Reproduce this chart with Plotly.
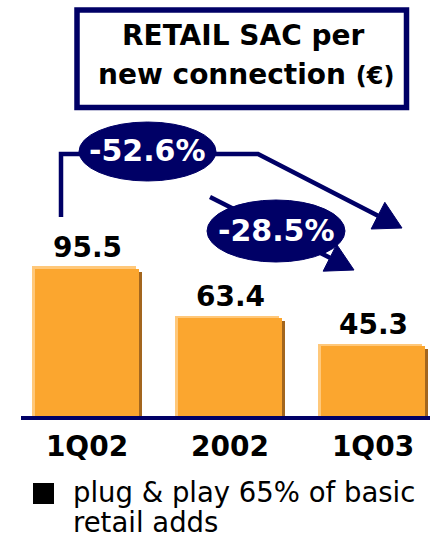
import plotly.graph_objects as go

# Retail SAC per new connection, in euro
periods = ["1Q02", "2002", "1Q03"]
sac_eur = [95.5, 63.4, 45.3]
changes = ["-52.6%", "-28.5%"]
title_lines = ["RETAIL SAC per", "new connection"]
title_unit = "(€)"
bullet_lines = ["plug & play 65% of basic", "retail adds"]

NAVY = "#000066"
ORANGE = "#FBA62F"
ORANGE_LIGHT = "#FFC87A"
ORANGE_DARK = "#A3661E"
FONT = "DejaVu Sans"

W, H = 430, 538
# plot area in pixels
PL, PR, PT, PB = 21, 0, 0, 122
PW = W - PL - PR
PH = H - PT - PB

Y_MAX = 270.0          # y-axis top, euro
X_MIN, X_MAX = -0.4615, 2.3986
BAR_W = 0.727
UX = PW / (X_MAX - X_MIN)   # px per category unit
UY = PH / Y_MAX             # px per euro


def px(x):
    return (x - PL) / PW


def py(y):
    return (PT + PH - y) / PH


fig = go.Figure()

# bevel: shadow behind, light rim, then the face
fig.add_trace(go.Bar(
    x=periods, y=sac_eur, base=-3 / UY, width=BAR_W,
    offset=-BAR_W / 2 + 3.5 / UX,
    marker=dict(color=ORANGE_DARK, line=dict(width=0)),
    hoverinfo="skip", showlegend=False))
fig.add_trace(go.Bar(
    x=periods, y=[v + 2.5 / UY for v in sac_eur], width=BAR_W,
    offset=-BAR_W / 2 - 3 / UX,
    marker=dict(color=ORANGE_LIGHT, line=dict(width=0)),
    hoverinfo="skip", showlegend=False))
fig.add_trace(go.Bar(
    x=periods, y=sac_eur, width=BAR_W, offset=-BAR_W / 2,
    marker=dict(color=ORANGE, line=dict(width=0)),
    hoverinfo="skip", showlegend=False))

annotations = []
# value labels, placed by category index on the category axis
for i, v in enumerate(sac_eur):
    annotations.append(dict(
        x=i, y=v, xref="x", yref="y", text=f"{v:.1f}", showarrow=False,
        yanchor="bottom", yshift=3,
        font=dict(family=FONT, size=28, color="black", weight="bold")))

shapes = []

# title box
shapes.append(dict(type="rect", xref="paper", yref="paper",
                   x0=px(77), x1=px(406.5), y0=py(107.5), y1=py(10),
                   line=dict(color=NAVY, width=5.5), fillcolor="white"))

def arrow(points, tip, length=27, half=15):
    (x0, y0) = points[-1]
    dx, dy = tip[0] - x0, tip[1] - y0
    n = (dx * dx + dy * dy) ** 0.5
    ux, uy = dx / n, dy / n
    bx, by = tip[0] - ux * length, tip[1] - uy * length
    path = "M " + " L ".join(f"{px(a)},{py(b)}" for a, b in points + [(bx, by)])
    shapes.append(dict(type="path", xref="paper", yref="paper", path=path,
                       line=dict(color=NAVY, width=4.5)))
    head = [(tip[0], tip[1]),
            (bx - uy * half, by + ux * half),
            (bx + uy * half, by - ux * half)]
    hp = "M " + " L ".join(f"{px(a)},{py(b)}" for a, b in head) + " Z"
    shapes.append(dict(type="path", xref="paper", yref="paper", path=hp,
                       line=dict(color=NAVY, width=1), fillcolor=NAVY))

arrow([(61, 217), (61, 154), (258, 154)], (402, 228))
arrow([(210, 197)], (354, 270))

ovals = [(79, 216, 122, 181), (207, 345, 200, 262)]
for (x0, x1, y0, y1), txt in zip(ovals, changes):
    shapes.append(dict(type="circle", xref="paper", yref="paper",
                       x0=px(x0), x1=px(x1), y0=py(y1), y1=py(y0),
                       line=dict(color=NAVY, width=1), fillcolor=NAVY))
    annotations.append(dict(
        x=px((x0 + x1) / 2), y=py((y0 + y1) / 2 - 1), xref="paper", yref="paper",
        text=txt, showarrow=False, xanchor="center", yanchor="middle",
        font=dict(family=FONT, size=30, color="white", weight="bold")))

# title text
annotations.append(dict(
    x=px(243), y=py(35), xref="paper", yref="paper", text=title_lines[0],
    showarrow=False, xanchor="center", yanchor="middle",
    font=dict(family=FONT, size=28, color="black", weight="bold")))
annotations.append(dict(
    x=px(246), y=py(74), xref="paper", yref="paper",
    text=f"{title_lines[1]} <span style='font-size:24px'>{title_unit}</span>",
    showarrow=False, xanchor="center", yanchor="middle",
    font=dict(family=FONT, size=28, color="black", weight="bold")))

# bullet note
shapes.append(dict(type="rect", xref="paper", yref="paper",
                   x0=px(33), x1=px(54), y0=py(504), y1=py(483),
                   line=dict(width=0), fillcolor="black"))
for i, line in enumerate(bullet_lines):
    annotations.append(dict(
        x=px(71), y=py(492 + 30 * i), xref="paper", yref="paper", text=line,
        showarrow=False, xanchor="left", yanchor="middle",
        font=dict(family=FONT, size=27.5, color="black")))

fig.update_layout(
    width=W, height=H,
    margin=dict(l=PL, r=PR, t=PT, b=PB, pad=0),
    paper_bgcolor="white", plot_bgcolor="white",
    barmode="overlay", bargap=0,
    shapes=shapes, annotations=annotations,
    xaxis=dict(type="category", range=[X_MIN, X_MAX], showgrid=False,
               zeroline=False, showline=True, linecolor=NAVY, linewidth=4,
               ticks="", ticklabelstandoff=2, fixedrange=True,
               tickfont=dict(family=FONT, size=28, color="black", weight="bold")),
    yaxis=dict(range=[0, Y_MAX], visible=False, fixedrange=True),
)

fig.write_html("out.html", config={"displayModeBar": False})
